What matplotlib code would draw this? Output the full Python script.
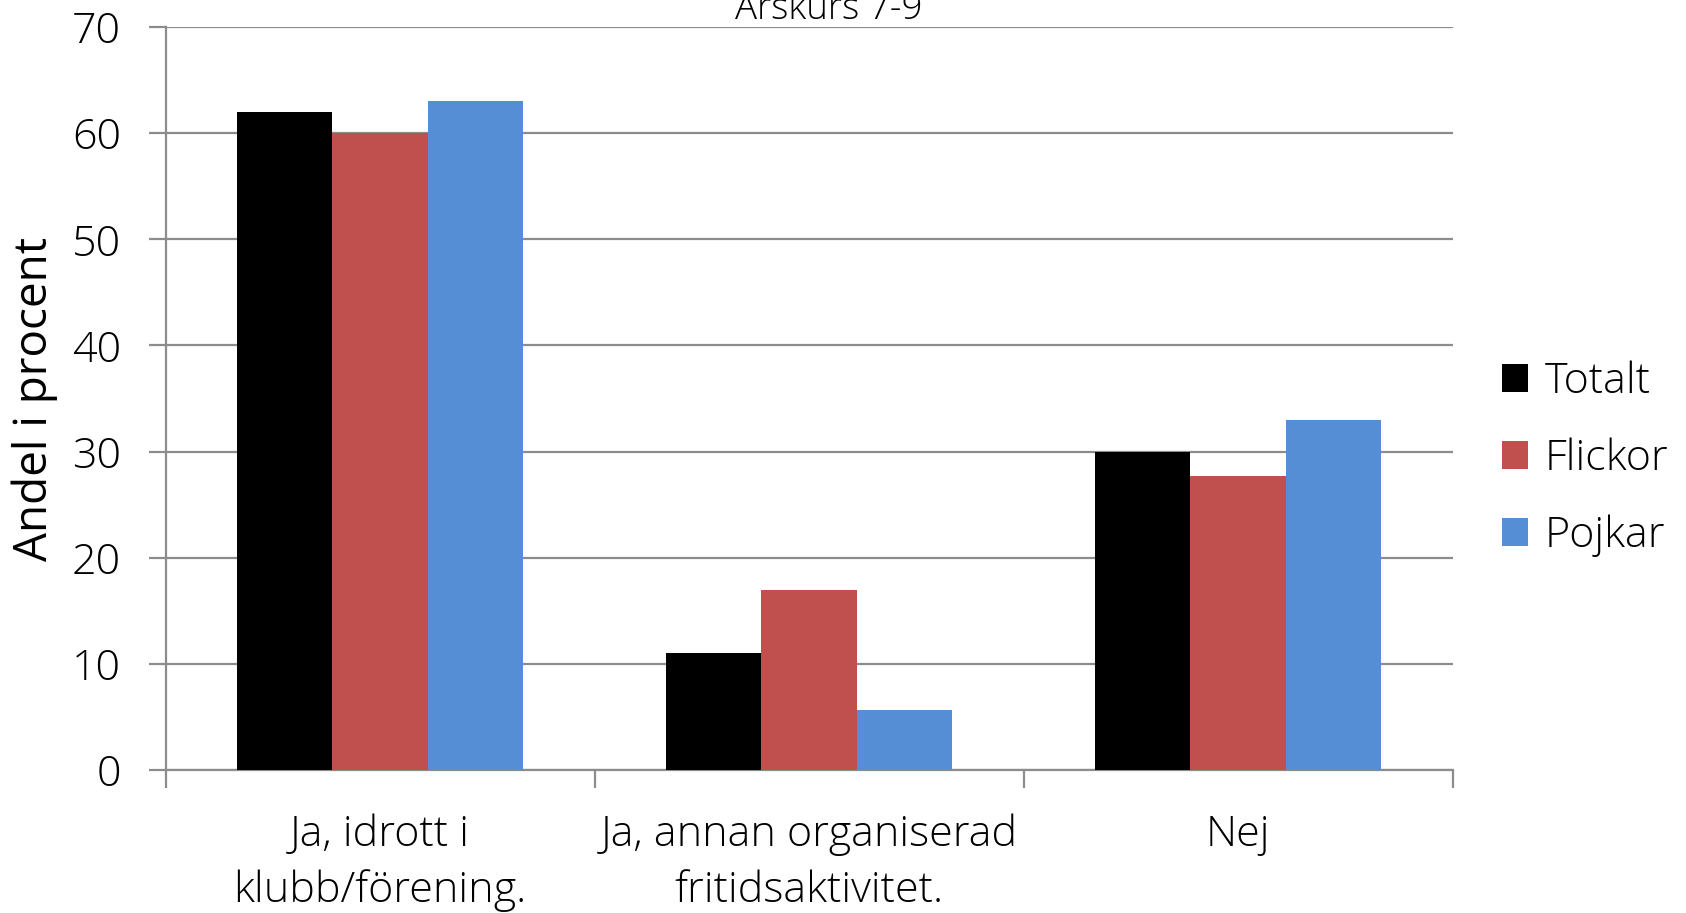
import matplotlib
matplotlib.use("Agg")
import matplotlib.pyplot as plt
import numpy as np

plt.rcParams['font.family'] = ['Open Sans', 'DejaVu Sans']
plt.rcParams['font.weight'] = 'light'

# Data
kategorier = ["Ja, idrott i\nklubb/förening.", "Ja, annan organiserad\nfritidsaktivitet.", "Nej"]
serier = ["Totalt", "Flickor", "Pojkar"]
totalt = [62, 11, 30]
flickor = [60, 17, 27.7]
pojkar = [63, 5.7, 33]
farger = ["#000000", "#C0504D", "#558ED5"]

fig = plt.figure(figsize=(16.86, 9.13), dpi=100)
ax = fig.add_axes([0.0982, 0.1566, 0.7634, 0.8138])

x = np.arange(len(kategorier))
width = 2 / 9
for i, (namn, varden) in enumerate(zip(serier, [totalt, flickor, pojkar])):
    ax.bar(x + (i - 1) * width, varden, width, color=farger[i], label=namn, zorder=3)

ax.set_xlim(-0.5, 2.5)
ax.set_ylim(0, 70)
ax.set_yticks(range(0, 71, 10))
ax.yaxis.grid(True, color="#8c8c8c", linewidth=1.6, zorder=0)

# gruppgränser som huvudmarkeringar, kategorinamn som mindre markeringar
ax.set_xticks([-0.5, 0.5, 1.5, 2.5])
ax.set_xticklabels([])
ax.set_xticks(x, minor=True)
ax.set_xticklabels(kategorier, minor=True, fontsize=31, linespacing=1.42)
ax.tick_params(axis='x', which='minor', length=0, pad=31)
ax.tick_params(axis='x', which='major', length=13, width=1.6, color="#8c8c8c")
ax.tick_params(axis='y', length=12, width=1.6, color="#8c8c8c", labelsize=31, pad=20)

for s in ["top", "right"]:
    ax.spines[s].set_visible(False)
for s in ["left", "bottom"]:
    ax.spines[s].set_color("#8c8c8c")
    ax.spines[s].set_linewidth(1.6)

ax.set_ylabel("Andel i procent", fontsize=33, va='center')
ax.yaxis.set_label_coords(-0.102, 0.5)

fig.legend(loc='center left', bbox_to_anchor=(1502 / 1686, 1 - 459 / 913), frameon=False,
           fontsize=31, handlelength=0.6, handleheight=0.6, handletextpad=0.4,
           labelspacing=0.8, borderpad=0, borderaxespad=0)

fig.text(829 / 1686, 1 - 19 / 913, "Årskurs 7-9", ha='center', va='baseline', fontsize=26.5)

fig.savefig("out.png", dpi=100)
